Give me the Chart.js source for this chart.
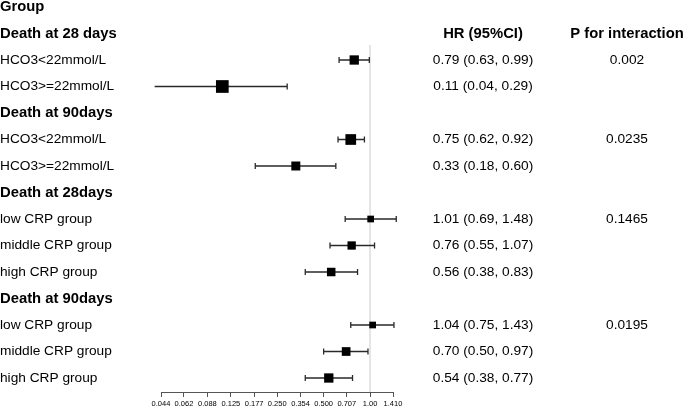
<!DOCTYPE html>
<html>
<head>
<meta charset="utf-8">
<style>
    html, body { margin: 0; padding: 0; background: #fff; }
    .frame { width: 685px; height: 407px; }
</style>
</head>
<body>
<div class="frame"><canvas id="forest"></canvas></div>
<script src="https://cdn.jsdelivr.net/npm/chart.js"></script>
<script>
    // rows, top to bottom
    const rowLabels = ['Group', 'Death at 28 days', 'HCO3<22mmol/L', 'HCO3>=22mmol/L', 'Death at 90days',
        'HCO3<22mmol/L', 'HCO3>=22mmol/L', 'Death at 28days', 'low CRP group', 'middle CRP group',
        'high CRP group', 'Death at 90days', 'low CRP group', 'middle CRP group', 'high CRP group'];
    const headerRows = [0, 1, 4, 7, 11];
    const hr     = [null, null, 0.79, 0.11, null, 0.75, 0.33, null, 1.01, 0.76, 0.56, null, 1.04, 0.70, 0.54];
    const ciLow  = [null, null, 0.63, 0.04, null, 0.62, 0.18, null, 0.69, 0.55, 0.38, null, 0.75, 0.50, 0.38];
    const ciHigh = [null, null, 0.99, 0.29, null, 0.92, 0.60, null, 1.48, 1.07, 0.83, null, 1.43, 0.97, 0.77];
    const weight = [null, null, 9.3, 12.7, null, 10.7, 9, null, 6.7, 8.3, 8.5, null, 6.7, 8.7, 9.3];
    const pInteraction = ['', '', '0.002', '', '', '0.0235', '', '', '0.1465', '', '', '', '0.0195', '', ''];
    const xTicks = [0.044, 0.062, 0.088, 0.125, 0.177, 0.250, 0.354, 0.500, 0.707, 1.00, 1.410];
    const xTickLabels = ['0.044', '0.062', '0.088', '0.125', '0.177', '0.250', '0.354', '0.500', '0.707', '1.00', '1.410'];
    const refValue = 1;

    const FONT = "'Liberation Sans', Arial, sans-serif";

    const boxes = [], caps = [], whiskers = [], sizes = [];
    rowLabels.forEach((_, r) => {
        if (hr[r] == null) return;
        boxes.push({x: hr[r], y: r});
        sizes.push(weight[r] / 1.414);
        caps.push({x: ciLow[r], y: r}, {x: ciHigh[r], y: r});
        whiskers.push({x: ciLow[r], y: r}, {x: ciHigh[r], y: r}, {x: ciHigh[r], y: null});
    });

    const yMin = -0.264, yMax = 14.528;

    // HR and P columns on the right
    const textColumns = {
        id: 'textColumns',
        afterDatasetsDraw(chart) {
            const ctx = chart.ctx;
            const y = chart.scales.y;
            ctx.save();
            ctx.textAlign = 'center';
            ctx.textBaseline = 'middle';
            ctx.fillStyle = '#000';
            ctx.font = 'bold 14.8px ' + FONT;
            ctx.fillText('HR (95%CI)', 483, y.getPixelForValue(1));
            ctx.fillText('P for interaction', 627, y.getPixelForValue(1));
            ctx.font = '13.7px ' + FONT;
            rowLabels.forEach((_, r) => {
                if (hr[r] == null) return;
                const py = y.getPixelForValue(r);
                ctx.fillText(hr[r].toFixed(2) + ' (' + ciLow[r].toFixed(2) + ', ' + ciHigh[r].toFixed(2) + ')', 483, py);
                ctx.fillText(pInteraction[r], 627, py);
            });
            ctx.restore();
        }
    };

    new Chart(document.getElementById('forest'), {
        type: 'scatter',
        data: {
            datasets: [
                {
                    data: boxes,
                    pointStyle: 'rect',
                    pointRadius: sizes,
                    backgroundColor: '#000',
                    borderWidth: 0,
                    clip: false
                },
                {
                    data: caps,
                    pointStyle: 'line',
                    rotation: 90,
                    pointRadius: 3,
                    borderColor: '#2a2a2a',
                    borderWidth: 1.3,
                    clip: false
                },
                {
                    type: 'line',
                    data: whiskers,
                    borderColor: '#2a2a2a',
                    borderWidth: 1.3,
                    pointRadius: 0,
                    spanGaps: false,
                    clip: false
                },
                {
                    type: 'line',
                    data: [{x: refValue, y: 1.43}, {x: refValue, y: yMax}],
                    borderColor: '#dcdcdc',
                    borderWidth: 1.5,
                    pointRadius: 0,
                    clip: false
                }
            ]
        },
        options: {
            responsive: true,
            maintainAspectRatio: false,
            animation: false,
            layout: { autoPadding: false, padding: { top: 0, left: 0, right: 292, bottom: 0 } },
            plugins: {
                legend: { display: false },
                tooltip: { enabled: false }
            },
            scales: {
                x: {
                    type: 'logarithmic',
                    min: 0.044,
                    max: 1.41,
                    afterBuildTicks: s => { s.ticks = xTicks.map(v => ({value: v})); },
                    afterFit: s => { s.height = 15; },
                    ticks: {
                        autoSkip: false,
                        maxRotation: 0,
                        padding: 2.5,
                        color: '#000',
                        font: { family: FONT, size: 7.5 },
                        callback: (v, i) => xTickLabels[i]
                    },
                    grid: { drawOnChartArea: false, tickLength: 5, tickColor: '#555', tickWidth: 1 },
                    border: { display: true, color: '#555', width: 1 }
                },
                y: {
                    type: 'linear',
                    reverse: true,
                    min: yMin,
                    max: yMax,
                    afterBuildTicks: s => { s.ticks = rowLabels.map((_, r) => ({value: r})); },
                    afterFit: s => { s.width = 161; s.paddingTop = 0; s.paddingBottom = 0; },
                    ticks: {
                        autoSkip: false,
                        crossAlign: 'far',
                        padding: 0,
                        color: '#000',
                        font: c => (c.tick && headerRows.includes(c.tick.value))
                            ? { family: FONT, size: 14.8, weight: 'bold' }
                            : { family: FONT, size: 13.7 },
                        callback: v => rowLabels[v]
                    },
                    grid: { display: false },
                    border: { display: false }
                }
            }
        },
        plugins: [textColumns]
    });
</script>
</body>
</html>
